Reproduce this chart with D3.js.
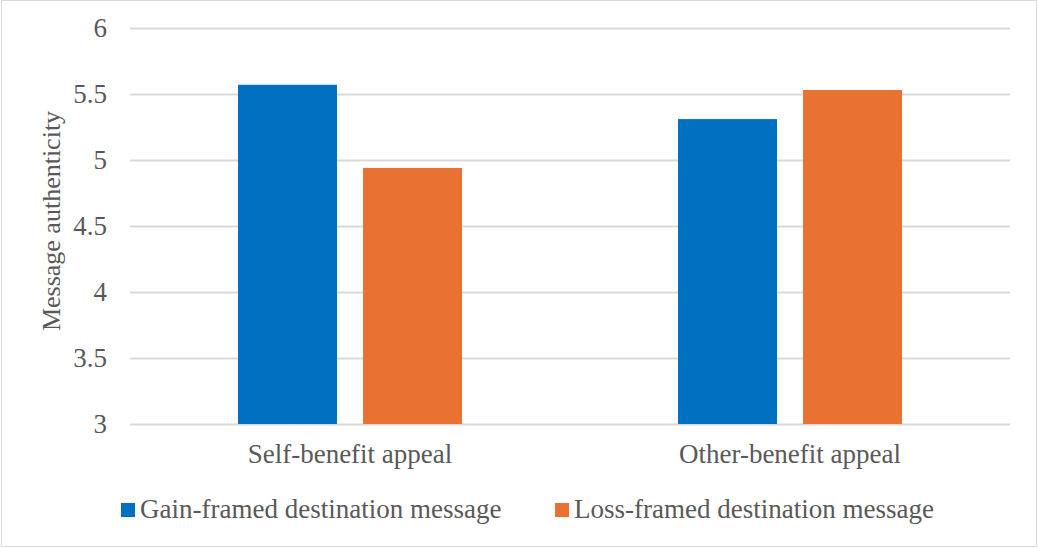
<!DOCTYPE html>
<html><head><meta charset="utf-8">
<script src="https://cdn.jsdelivr.net/npm/d3@7"></script>
<style>body{margin:0;background:#fff}svg{display:block}</style>
</head><body>
<svg id="c" width="1038" height="548"></svg>
<script>
const categories = ["Self-benefit appeal", "Other-benefit appeal"];
const seriesNames = ["Gain-framed destination message", "Loss-framed destination message"];
const gainValues = [5.57, 5.31];
const lossValues = [4.94, 5.53];
const yTicks = [3, 3.5, 4, 4.5, 5, 5.5, 6];
const colors = ["#0070C0", "#E97132"];

const svg = d3.select("#c");
const W = 1038, H = 548;
const font = "Liberation Serif";
const fs = "27px";
const textColor = "#595959";

svg.append("rect").attr("x",1.5).attr("y",0.5).attr("width",W-3).attr("height",H-2)
  .attr("fill","#fff").attr("stroke","#d9d9d9").attr("stroke-width",1);

const pLeft = 130, pRight = 1010, pTop = 28, pBottom = 424;
const x0 = d3.scaleBand().domain(categories).range([pLeft,pRight]).paddingInner(0).paddingOuter(0);
const y = d3.scaleLinear().domain([3,6]).range([pBottom,pTop]);

// gridlines + y tick labels
const yAxis = d3.axisLeft(y).tickValues(yTicks).tickSize(-(pRight-pLeft)).tickPadding(23)
  .tickFormat(d3.format("~g"));
const ga = svg.append("g").attr("transform",`translate(${pLeft},0)`).call(yAxis);
ga.select(".domain").remove();
ga.selectAll(".tick line").attr("stroke","#d9d9d9").attr("stroke-width",2);
ga.selectAll(".tick text").style("font-family",font).style("font-size",fs).attr("fill",textColor);

const rows = categories.map((c,i)=>({cat:c, vals:[gainValues[i], lossValues[i]]}));
const groupW = 224;
const x1 = d3.scaleBand().domain([0,1]).range([0,groupW]).paddingInner(26/125).paddingOuter(0);

const g = svg.append("g");
rows.forEach(r=>{
  const gx = x0(r.cat) + x0.bandwidth()/2 - groupW/2;
  r.vals.forEach((v,j)=>{
    g.append("rect").attr("x",gx + x1(j)).attr("width",x1.bandwidth())
      .attr("y",y(v)).attr("height",y(3)-y(v)).attr("fill",colors[j]);
  });
});

// x labels
const xAxis = d3.axisBottom(x0).tickSize(0).tickPadding(20);
const gxa = svg.append("g").attr("transform",`translate(0,${pBottom})`).call(xAxis);
gxa.select(".domain").remove();
gxa.selectAll(".tick text").style("font-family",font).style("font-size",fs).attr("fill",textColor);

// y label
svg.append("text").attr("transform","translate(60,221) rotate(-90)").attr("text-anchor","middle")
  .style("font-family",font).style("font-size","26px").attr("fill",textColor).text("Message authenticity");

// legend
const legX = [121, 555];
seriesNames.forEach((s,i)=>{
  svg.append("rect").attr("x",legX[i]).attr("y",503).attr("width",14).attr("height",14).attr("fill",colors[i]);
  svg.append("text").attr("x",legX[i]+19).attr("y",518).style("font-family",font).style("font-size",fs)
    .attr("fill",textColor).text(s);
});
</script>
</body></html>
